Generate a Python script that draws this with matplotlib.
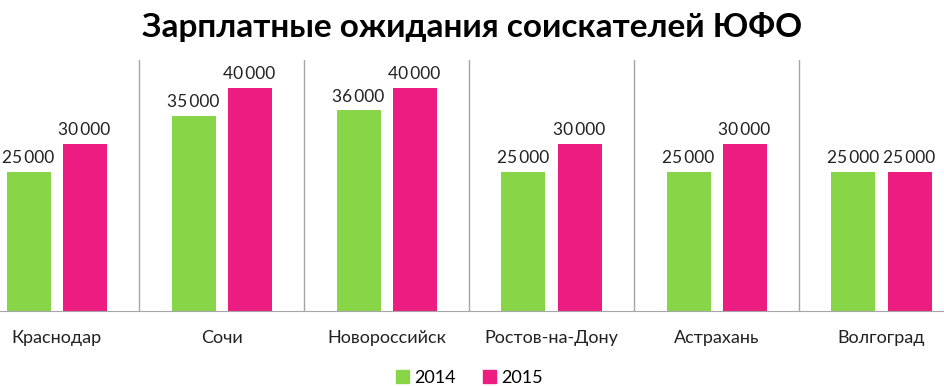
import numpy as np
import matplotlib.pyplot as plt
from matplotlib.patches import Patch

cities = ['Краснодар', 'Сочи', 'Новороссийск', 'Ростов-на-Дону', 'Астрахань', 'Волгоград']
y2014 = [25000, 35000, 36000, 25000, 25000, 25000]
y2015 = [30000, 40000, 40000, 30000, 30000, 25000]
years = ['2014', '2015']
colors = ['#88D548', '#EC1C80']

plt.rcParams['font.family'] = ['Lato', 'DejaVu Sans']

fig = plt.figure(figsize=(9.45, 3.86), dpi=100)
# axes runs a little past the figure on both sides, as in the reference
ax = fig.add_axes([-26 / 945, 1 - 311 / 386, 990 / 945, 251 / 386])

x = np.arange(len(cities))
w = 44 / 165
off = 28 / 165
b1 = ax.bar(x - off, y2014, w, color=colors[0])
b2 = ax.bar(x + off, y2015, w, color=colors[1])

def fmt(v):
  return f'{v:,}'.replace(',', '\u2009')

for bars in (b1, b2):
  for r in bars:
    v = r.get_height()
    ax.annotate(fmt(v), (r.get_x() + r.get_width() / 2, v), xytext=(0, 4),
                textcoords='offset points', ha='center', va='bottom',
                fontsize=12.5, color='#222222')

ax.set_xlim(-0.5, len(cities) - 0.5)
ax.set_ylim(0, 45000)
for b in np.arange(-0.5, len(cities), 1.0):
  ax.axvline(b, color='#a6a6a6', lw=1)

for s in ['top', 'right', 'left']:
  ax.spines[s].set_visible(False)
ax.spines['bottom'].set_color('#a6a6a6')
ax.set_yticks([])
ax.set_xticks(x)
ax.set_xticklabels(cities, fontsize=13, color='#222222')
ax.tick_params(axis='x', length=0, pad=14)

fig.text(0.5, 0.93, 'Зарплатные ожидания соискателей ЮФО', ha='center', va='center',
         fontsize=24, fontweight='bold')

handles = [Patch(color=c, label=l) for c, l in zip(colors, years)]
fig.legend(handles=handles, loc='center', bbox_to_anchor=(0.497, 0.022), ncol=2,
           frameon=False, fontsize=13, handlelength=0.7, handleheight=0.7,
           handletextpad=0.3, columnspacing=1.5)

fig.savefig('out.png', dpi=100)
